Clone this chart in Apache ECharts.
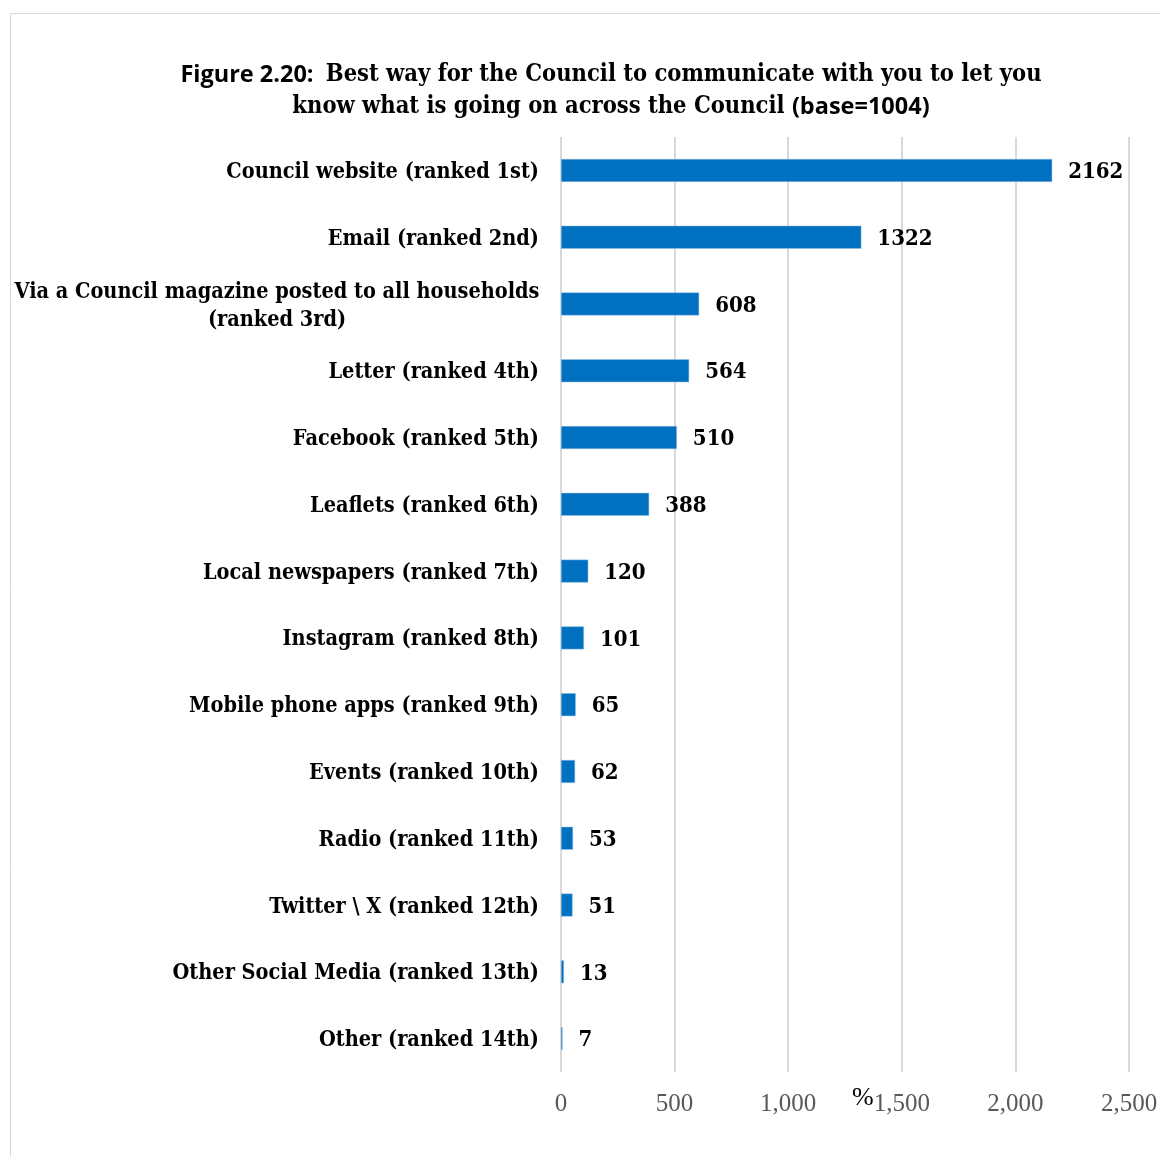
<!DOCTYPE html>
<html><head><meta charset="utf-8">
<script src="https://cdn.jsdelivr.net/npm/echarts@6/dist/echarts.min.js"></script>
<style>html,body{margin:0;padding:0;background:#fff}#c{width:1160px;height:1157px}</style>
</head><body><div id="c"></div>
<script>
const categories = [
  "Council website (ranked 1st)",
  "Email (ranked 2nd)",
  "Via a Council magazine posted to all households\n(ranked 3rd)",
  "Letter (ranked 4th)",
  "Facebook (ranked 5th)",
  "Leaflets (ranked 6th)",
  "Local newspapers (ranked 7th)",
  "Instagram (ranked 8th)",
  "Mobile phone apps (ranked 9th)",
  "Events (ranked 10th)",
  "Radio (ranked 11th)",
  "Twitter \\ X (ranked 12th)",
  "Other Social Media (ranked 13th)",
  "Other (ranked 14th)"
];
const values = [2162, 1322, 608, 564, 510, 388, 120, 101, 65, 62, 53, 51, 13, 7];
const xTicks = [0, 500, 1000, 1500, 2000, 2500];

const serif = "'DejaVu Serif Condensed', 'DejaVu Serif', serif";
const tserif = "'Liberation Serif', serif";
const sans = "'Open Sans', 'Liberation Sans', sans-serif";
const chart = echarts.init(document.getElementById('c'));
chart.setOption({
  backgroundColor: '#fff',
  animation: false,
  graphic: [
    { type: 'rect', shape: { x: 10.5, y: 13.5, width: 1200, height: 1200 }, style: { fill: 'none', stroke: '#d9d9d9', lineWidth: 1 } },
    { type: 'text', left: 852, top: 1085, style: { text: '%', font: "26px " + tserif, fill: '#000' } }
  ],
  title: {
    text: '{s|Figure 2.20:  }{b|Best way for the Council to communicate with you to let you}\n{b|know what is going on across the Council }{s|(base=1004)}',
    left: 606, top: 54, textAlign: 'center',
    textStyle: {
      lineHeight: 32,
      rich: {
        s: { fontFamily: sans, fontWeight: 'bold', fontSize: 23.5, lineHeight: 32, color: '#000' },
        b: { fontFamily: serif, fontWeight: 'bold', fontSize: 23.5, lineHeight: 32, color: '#000' }
      }
    }
  },
  grid: { left: 561, right: 31, top: 137, bottom: 85, containLabel: false, outerBoundsMode: 'none' },
  xAxis: {
    type: 'value', min: 0, max: 2500, interval: 500,
    axisLine: { show: false }, axisTick: { show: false },
    splitLine: { lineStyle: { color: '#d9d9d9', width: 2 } },
    axisLabel: {
      margin: 20, color: '#595959', fontFamily: tserif, fontSize: 25,
      formatter: v => xTicks.includes(v) ? v.toLocaleString('en-US') : ''
    }
  },
  yAxis: {
    type: 'category', data: categories, inverse: true,
    axisLine: { show: false }, axisTick: { show: false },
    axisLabel: {
      margin: 22, color: '#000', fontFamily: serif, fontWeight: 'bold', fontSize: 21.5,
      align: 'right', lineHeight: 28, padding: [4, 0, 0, 0],
      formatter: v => v.includes('\n') ? v.split('\n').map(l => '{c|' + l + '}').join('\n') : v,
      rich: {
        c: { width: 524, align: 'center', fontFamily: serif, fontWeight: 'bold', fontSize: 21.5, lineHeight: 28, color: '#000' }
      }
    }
  },
  series: [{
    type: 'bar', data: values, barWidth: 23,
    itemStyle: { color: '#0070C0', borderColor: '#9dc3e6', borderWidth: 0.5 },
    label: {
      show: true, position: 'right', distance: 16, color: '#000', offset: [0, 2],
      fontFamily: serif, fontWeight: 'bold', fontSize: 22
    }
  }]
});
</script></body></html>
